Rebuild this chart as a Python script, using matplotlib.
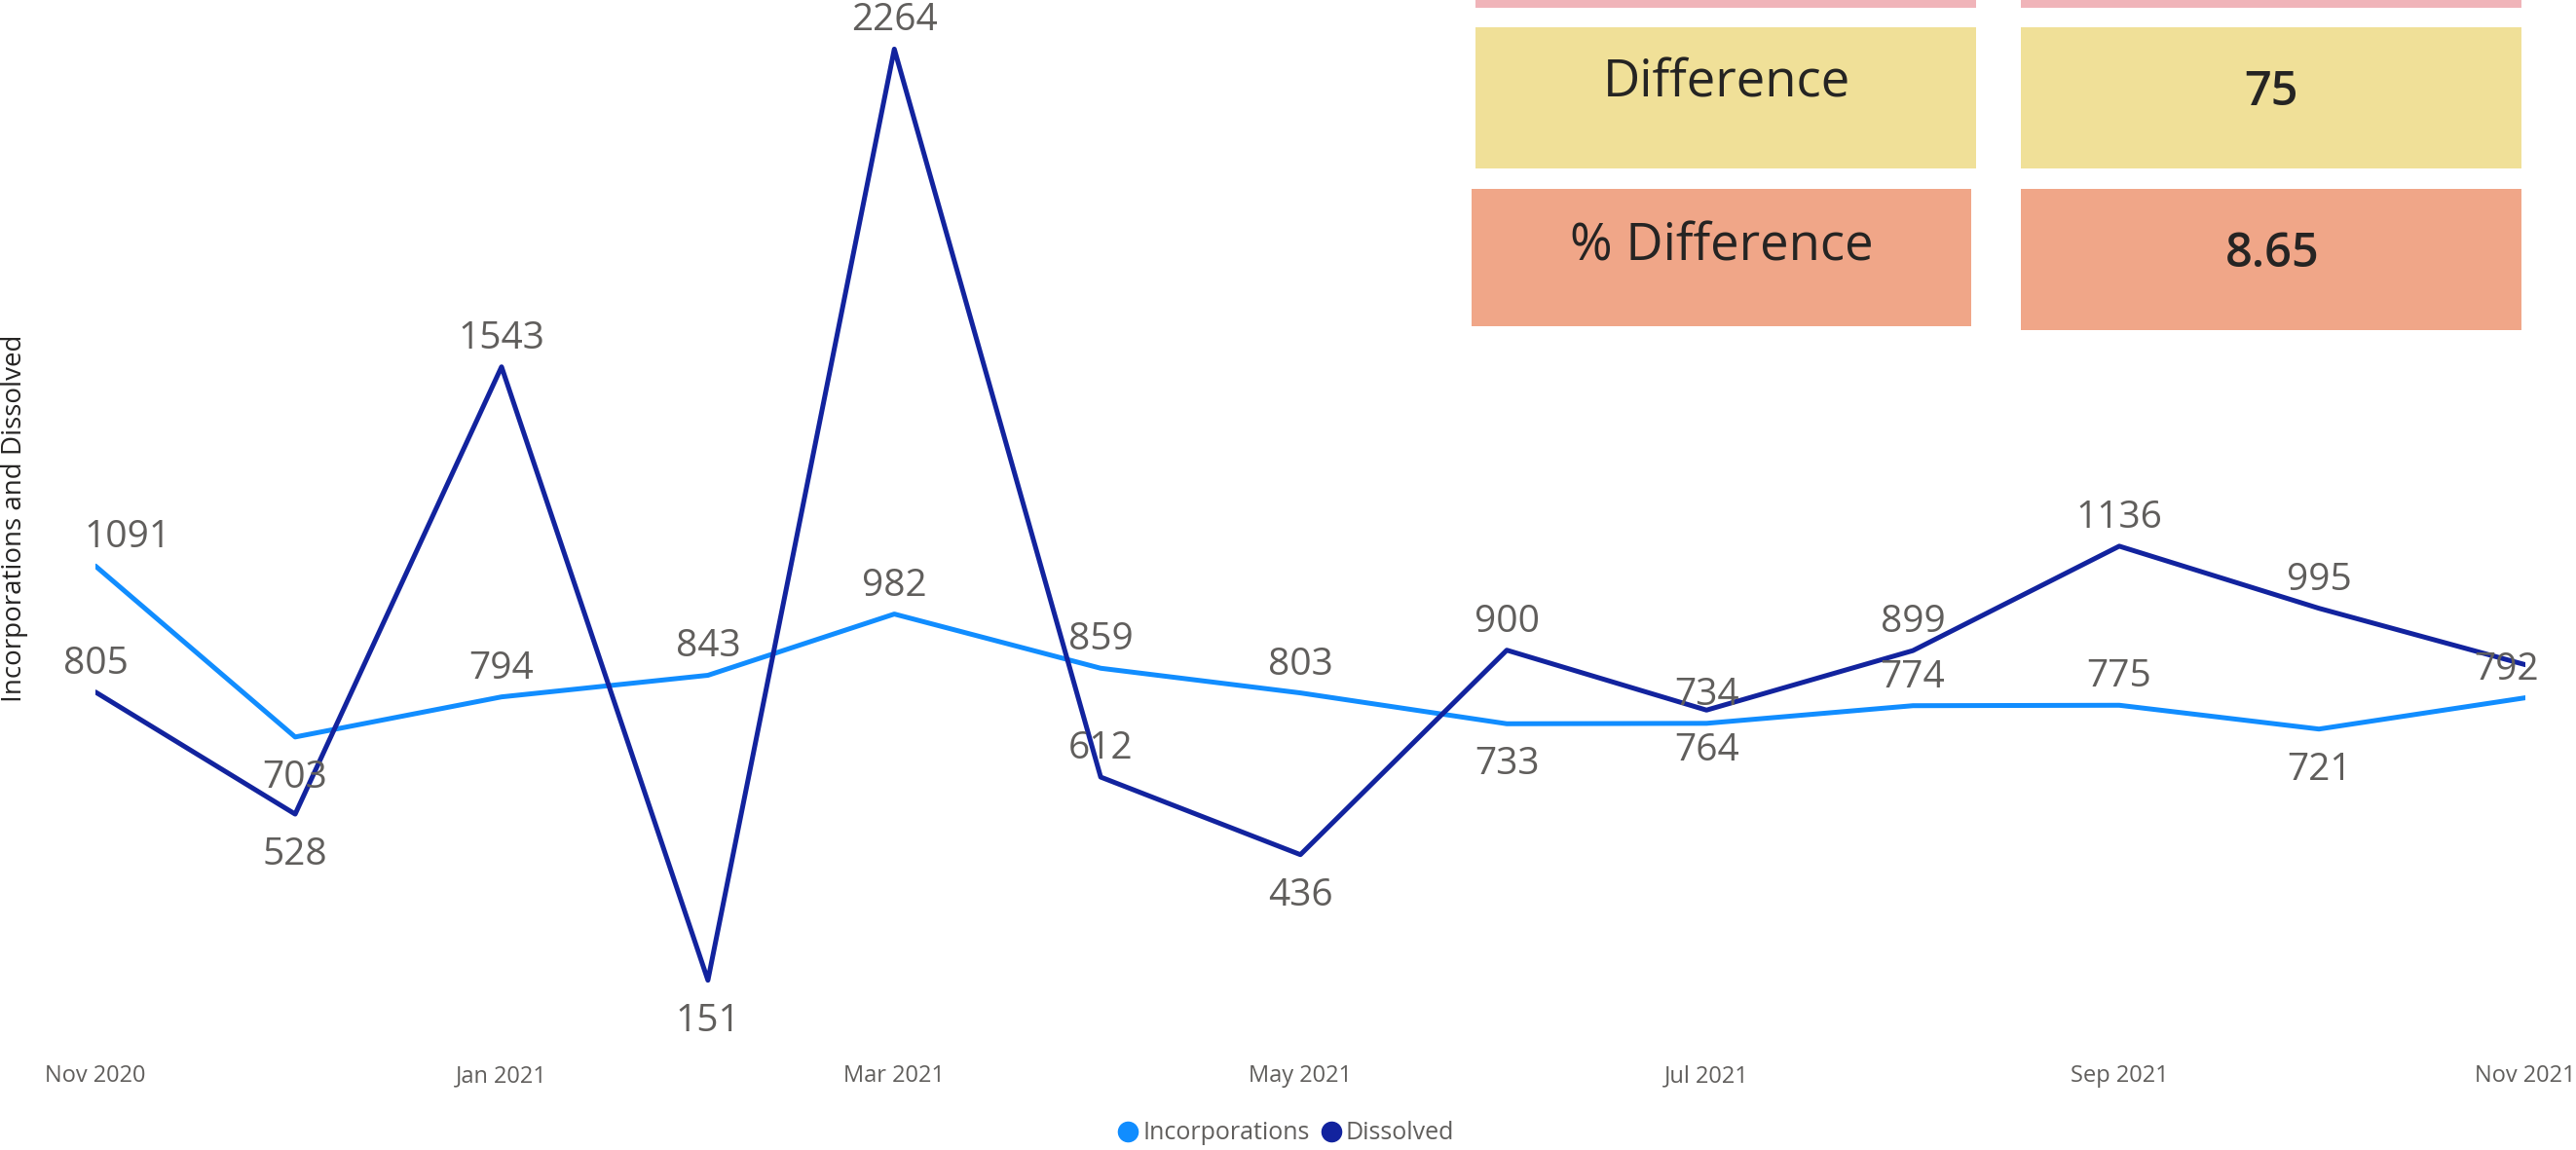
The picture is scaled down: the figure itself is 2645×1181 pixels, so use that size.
import datetime as dt
import matplotlib
matplotlib.use("Agg")
import matplotlib.pyplot as plt
import matplotlib.dates as mdates
from matplotlib.patches import Rectangle
from matplotlib.lines import Line2D

# ---------------- data ----------------
months = ["2020-11", "2020-12", "2021-01", "2021-02", "2021-03", "2021-04", "2021-05",
          "2021-06", "2021-07", "2021-08", "2021-09", "2021-10", "2021-11"]
incorporations = [1091, 703, 794, 843, 982, 859, 803, 733, 734, 774, 775, 721, 792]
dissolved = [805, 528, 1543, 151, 2264, 612, 436, 900, 764, 899, 1136, 995, 867]
series_names = ["Incorporations", "Dissolved"]
tick_months = ["2020-11", "2021-01", "2021-03", "2021-05", "2021-07", "2021-09", "2021-11"]
y_title = "Incorporations and Dissolved"
card_labels = ["Difference", "% Difference"]
card_values = ["75", "8.65"]

# label placement (style): 'a' above, 'b' below, None hidden
inc_place = ['a', 'b', 'a', 'a', 'a', 'a', 'a', 'b', 'a', 'a', 'a', 'b', 'a']
dis_place = ['a', 'b', 'a', 'b', 'a', 'a', 'b', 'a', 'b', 'a', 'a', 'a', None]

# ---------------- style ----------------
W, H, DPI = 2645, 1181, 100
C_INC = "#118DFF"
C_DIS = "#12239E"
C_LBL = "#605E5C"
C_TXT = "#252423"
FONT = ["Open Sans", "DejaVu Sans"]
plt.rcParams['font.family'] = FONT

dates = [dt.datetime.strptime(m, "%Y-%m") for m in months]
tdates = [dt.datetime.strptime(m, "%Y-%m") for m in tick_months]

fig = plt.figure(figsize=(W / DPI, H / DPI), dpi=DPI)


def fx(px):
    return px / W


def fy(py):
    return 1 - py / H


# axes: x from 98 to 2593 px, y from 40 to 1075 px
ax_left, ax_right, ax_top, ax_bot = 98, 2593, 40, 1075
ax = fig.add_axes([fx(ax_left), fy(ax_bot), fx(ax_right - ax_left), (ax_bot - ax_top) / H])
ax.set_xlim(dates[0], dates[-1])
ax.set_ylim(0, 2287)
for s in ax.spines.values():
    s.set_visible(False)
ax.set_yticks([])
ax.set_xticks(tdates)
ax.xaxis.set_major_formatter(mdates.DateFormatter("%b %Y"))
ax.tick_params(axis='x', length=0, pad=13, labelsize=17, labelcolor=C_LBL)
ax.patch.set_alpha(0)

ax.plot(dates, incorporations, color=C_INC, lw=3.6, solid_capstyle='round',
        solid_joinstyle='round', zorder=2)
ax.plot(dates, dissolved, color=C_DIS, lw=3.6, solid_capstyle='round',
        solid_joinstyle='round', zorder=3)


def put_labels(vals, places, xshift):
    for i, (d, v, p) in enumerate(zip(dates, vals, places)):
        if p is None:
            continue
        dy = 29 if p == 'a' else -42
        ax.annotate(str(v), (d, v), xytext=(xshift.get(i, 0), dy), textcoords='offset pixels',
                    ha='center', va='center', fontsize=28, color=C_LBL,
                    annotation_clip=False, zorder=5)


put_labels(incorporations, inc_place, {0: 33, 12: -19})
put_labels(dissolved, dis_place, {})

# y-axis title
fig.text(fx(15), fy(532), y_title, rotation=90, ha='center', va='center',
         fontsize=20, color=C_TXT)

# legend
handles = [Line2D([], [], marker='o', ls='none', color=c, markersize=14.5)
           for c in (C_INC, C_DIS)]
leg = fig.legend(handles, series_names, loc='center', bbox_to_anchor=(fx(1322), fy(1164)),
                 ncol=2, frameon=False, fontsize=18, handlelength=0.6, handletextpad=0.3,
                 columnspacing=0.6, borderpad=0, borderaxespad=0)
for t in leg.get_texts():
    t.set_color(C_LBL)

# cards (pixel boxes: x0, x1, y0, y1)
def box(x0, x1, y0, y1, color):
    fig.add_artist(Rectangle((fx(x0), fy(y1)), fx(x1 - x0), (y1 - y0) / H,
                             transform=fig.transFigure, facecolor=color, edgecolor='none',
                             zorder=0))


PINK, YEL, SAL = "#F0B4B9", "#F0E098", "#F0A688"
box(1515, 2029, -60, 8, PINK)
box(2075, 2589, -60, 8, PINK)
box(1515, 2029, 28, 173, YEL)
box(2075, 2589, 28, 173, YEL)
box(1511, 2024, 194, 335, SAL)
box(2075, 2589, 194, 339, SAL)

fig.text(fx(1773), fy(100), card_labels[0], ha='center', va='baseline', fontsize=38, color=C_TXT)
fig.text(fx(1768), fy(267), card_labels[1], ha='center', va='baseline', fontsize=38, color=C_TXT)
fig.text(fx(2332), fy(108), card_values[0], ha='center', va='baseline', fontsize=35,
         fontweight='semibold', color=C_TXT)
fig.text(fx(2333), fy(274), card_values[1], ha='center', va='baseline', fontsize=35,
         fontweight='semibold', color=C_TXT)

fig.savefig("out.png", dpi=DPI)
